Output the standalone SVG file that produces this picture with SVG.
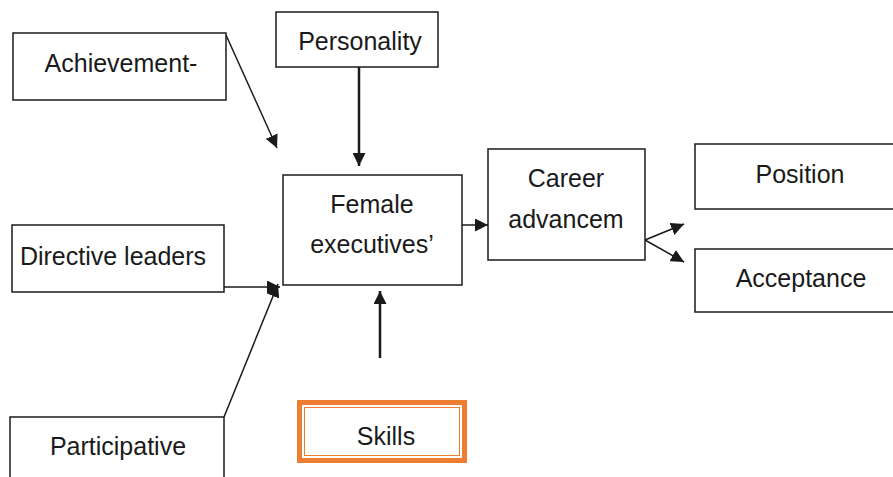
<svg xmlns="http://www.w3.org/2000/svg" width="893" height="477" viewBox="0 0 893 477">
<defs>
<style>
.box{fill:#fff;stroke:#1a1a1a;stroke-width:1.5}
.t{font-family:"Liberation Sans",Arial,sans-serif;font-size:25px;fill:#1a1a1a;text-anchor:middle}
.c{fill:none;stroke:#1a1a1a;stroke-width:1.5}
.thick{stroke-width:2.5}
</style>
<marker id="ah" viewBox="0 0 10 10" refX="10" refY="5" markerWidth="13" markerHeight="13" markerUnits="userSpaceOnUse" orient="auto">
<path d="M0,0 L10,5 L0,10 z" fill="#1a1a1a"/>
</marker>
</defs>
<rect width="893" height="477" fill="#fff"/>
<g id="connectors">
<line class="c" x1="226" y1="35" x2="277" y2="148" marker-end="url(#ah)"/>
<line class="c thick" x1="359" y1="67" x2="359" y2="166" marker-end="url(#ah)"/>
<line class="c" x1="224" y1="287" x2="280" y2="287" marker-end="url(#ah)"/>
<line class="c" x1="224" y1="417" x2="278" y2="284" marker-end="url(#ah)"/>
<line class="c thick" x1="380" y1="358" x2="380" y2="291" marker-end="url(#ah)"/>
<line class="c" x1="462" y1="225" x2="488" y2="225" marker-end="url(#ah)"/>
<line class="c" x1="645" y1="240" x2="684" y2="224" marker-end="url(#ah)"/>
<line class="c" x1="645" y1="240" x2="684" y2="262" marker-end="url(#ah)"/>
</g>
<g id="achievement">
<rect class="box" x="13" y="33" width="213" height="67"/>
<text class="t" x="121" y="72">Achievement-</text>
</g>
<g id="personality">
<rect class="box" x="276" y="12" width="162" height="55"/>
<text class="t" x="360" y="50">Personality</text>
</g>
<g id="female">
<rect class="box" x="283" y="175" width="179" height="110"/>
<text class="t" x="372" y="213">Female</text>
<text class="t" x="372" y="253">executives’</text>
</g>
<g id="directive">
<rect class="box" x="12" y="225" width="212" height="67"/>
<text class="t" x="113" y="265">Directive leaders</text>
</g>
<g id="participative">
<rect class="box" x="10" y="417" width="214" height="70"/>
<text class="t" x="118" y="455">Participative</text>
</g>
<g id="skills">
<rect x="299.5" y="402.5" width="165" height="58" fill="#fff" stroke="#ED7D31" stroke-width="5"/>
<rect x="304.5" y="407.5" width="155" height="48" fill="none" stroke="#ED7D31" stroke-width="1"/>
<text class="t" x="386" y="445">Skills</text>
</g>
<g id="career">
<rect class="box" x="488" y="149" width="157" height="111"/>
<text class="t" x="566" y="187">Career</text>
<text class="t" x="566" y="228">advancem</text>
</g>
<g id="position">
<rect class="box" x="695" y="144" width="210" height="65"/>
<text class="t" x="800" y="183">Position</text>
</g>
<g id="acceptance">
<rect class="box" x="695" y="249" width="210" height="63"/>
<text class="t" x="801" y="287">Acceptance</text>
</g>
</svg>
